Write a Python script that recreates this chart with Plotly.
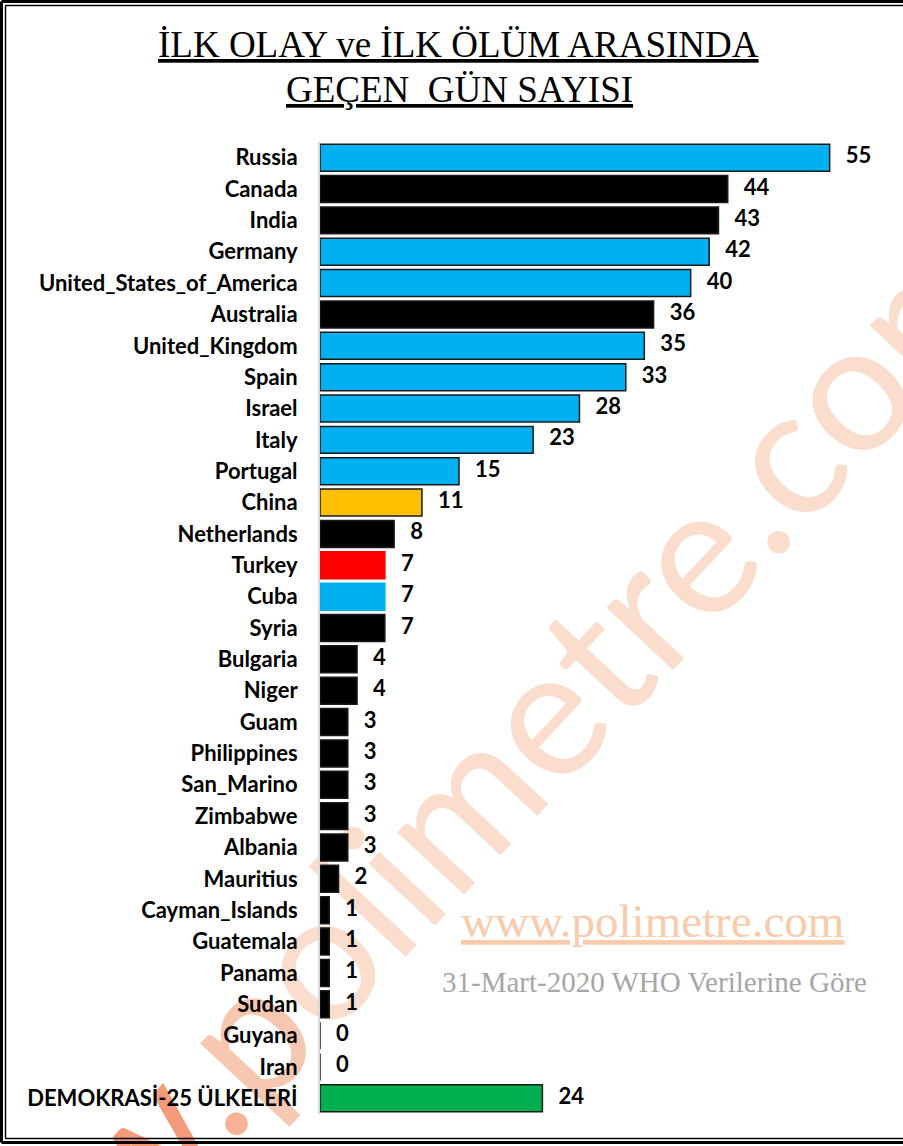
import math
import plotly.graph_objects as go

countries = ["Russia", "Canada", "India", "Germany", "United_States_of_America", "Australia",
             "United_Kingdom", "Spain", "Israel", "Italy", "Portugal", "China", "Netherlands",
             "Turkey", "Cuba", "Syria", "Bulgaria", "Niger", "Guam", "Philippines", "San_Marino",
             "Zimbabwe", "Albania", "Mauritius", "Cayman_Islands", "Guatemala", "Panama", "Sudan",
             "Guyana", "Iran", "DEMOKRASİ-25 ÜLKELERİ"]
days = [55, 44, 43, 42, 40, 36, 35, 33, 28, 23, 15, 11, 8, 7, 7, 7, 4, 4, 3, 3, 3, 3, 3, 2, 1, 1, 1, 1, 0, 0, 24]
groups = ["blue", "black", "black", "blue", "blue", "black", "blue", "blue", "blue", "blue", "blue",
          "yellow", "black", "red", "blue", "black", "black", "black", "black", "black", "black",
          "black", "black", "black", "black", "black", "black", "black", "black", "black", "green"]

fill = {"blue": "#00B0F0", "black": "#000000", "yellow": "#FFC000", "red": "#FF0000", "green": "#00B050"}
bar_colors = [fill[g] for g in groups]
line_colors = [fill[g] if c in ("Turkey", "Cuba") else "#1a1a1a" for g, c in zip(groups, countries)]

W, H = 903, 1146
ML, MR, MT, MB = 320, 27, 142, 32
PW, PH = W - ML - MR, H - MT - MB


def px(x):
    return (x - ML) / PW


def py(y):
    return (H - MB - y) / PH


fig = go.Figure()

fig.add_trace(go.Bar(
    x=days, y=countries, orientation="h",
    marker=dict(color=bar_colors, line=dict(color=line_colors, width=1.5)),
    hoverinfo="skip", showlegend=False,
))
fig.add_trace(go.Scatter(
    x=days, y=countries, mode="text",
    text=["\u00a0\u00a0\u00a0" + str(v) for v in days], textposition="middle right",
    textfont=dict(family="Lato", size=22, color="#000000", weight="bold"),
    cliponaxis=False, hoverinfo="skip", showlegend=False,
))

# watermark: invisible line shape below the traces carrying a rotated label
wm_text = "www.polimetre.com"
c0 = (240, 112, 72)
c1 = (250, 221, 204)
spans = []
for i, ch in enumerate(wm_text):
    t = min(1.0, i / 5.0)
    r, g, b = [int(a + (bb - a) * t) for a, bb in zip(c0, c1)]
    spans.append(f"<span style='color:rgb({r},{g},{b})'>{ch}</span>")
wm_cx, wm_cy, wm_ang = 433, 822, 47
dx, dy = 100 * math.cos(math.radians(wm_ang)), 100 * math.sin(math.radians(wm_ang))

shapes = [
    dict(type="line", xref="paper", yref="paper", layer="below",
         x0=px(wm_cx - dx), y0=py(wm_cy + dy), x1=px(wm_cx + dx), y1=py(wm_cy - dy),
         line=dict(color="rgba(0,0,0,0)", width=0),
         label=dict(text="".join(spans), textposition="middle", textangle=-wm_ang,
                    xanchor="center", yanchor="middle",
                    font=dict(family="Lato", size=180, color="rgb(250,221,204)"))),
]
# double frame (top, left, bottom; the right edge lies outside the picture)
for off, wdt in ((1.5, 3), (5.5, 1.5)):
    shapes.append(dict(type="line", xref="paper", yref="paper", layer="above",
                       x0=px(off), x1=px(W + 5), y0=py(off), y1=py(off),
                       line=dict(color="#000000", width=wdt)))
    shapes.append(dict(type="line", xref="paper", yref="paper", layer="above",
                       x0=px(off), x1=px(off), y0=py(off), y1=py(H - off - 2),
                       line=dict(color="#000000", width=wdt)))
    shapes.append(dict(type="line", xref="paper", yref="paper", layer="above",
                       x0=px(off), x1=px(W + 5), y0=py(H - off - 2), y1=py(H - off - 2),
                       line=dict(color="#000000", width=wdt)))

ann = [
    dict(text="<u>İLK OLAY ve İLK ÖLÜM ARASINDA</u>", x=px(458.5), y=py(45)),
    dict(text="<u>GEÇEN\u00a0 GÜN SAYISI</u>", x=px(459), y=py(89)),
]
annotations = []
for a in ann:
    annotations.append(dict(text=a["text"], x=a["x"], y=a["y"], xref="paper", yref="paper",
                            xanchor="center", yanchor="middle", showarrow=False,
                            font=dict(family="Liberation Serif", size=37, color="#000000")))
annotations.append(dict(text="<u>www.polimetre.com</u>", x=px(652), y=py(921), xref="paper", yref="paper",
                        xanchor="center", yanchor="middle", showarrow=False,
                        font=dict(family="Liberation Serif", size=47, color="#F8CBAD")))
annotations.append(dict(text="31-Mart-2020 WHO Verilerine Göre", x=px(654), y=py(982), xref="paper",
                        yref="paper", xanchor="center", yanchor="middle", showarrow=False,
                        font=dict(family="Liberation Serif", size=29, color="#A6A6A6")))

fig.update_layout(
    width=W, height=H,
    margin=dict(l=ML, r=MR, t=MT, b=MB, autoexpand=False),
    paper_bgcolor="#FFFFFF", plot_bgcolor="rgba(0,0,0,0)",
    bargap=0.14,
    xaxis=dict(range=[0, 60], visible=False, fixedrange=True),
    yaxis=dict(type="category", range=[len(countries) - 0.5, -0.5], autorange=False,
               showline=True, linecolor="#D9D9D9", linewidth=2, showgrid=False, ticks="",
               ticklabelstandoff=16, fixedrange=True,
               tickfont=dict(family="Lato", size=22, color="#000000", weight="bold")),
    annotations=annotations,
    shapes=shapes,
)

fig.write_html("out.html", config={"displayModeBar": False},
               post_script="document.body.style.margin='0';document.body.style.overflow='hidden';")
